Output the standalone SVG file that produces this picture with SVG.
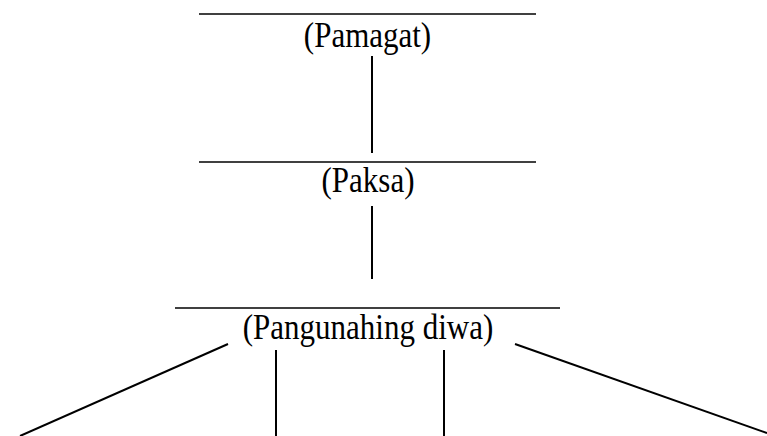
<svg xmlns="http://www.w3.org/2000/svg" width="767" height="436" viewBox="0 0 767 436">
<style>
.rule{stroke:#000;stroke-width:1.3;fill:none}
.lbl{font-family:"Liberation Serif","Times New Roman",serif;font-size:31px;fill:#000;text-anchor:middle}
.conn{stroke:#000;stroke-width:2;fill:none}
</style>
<rect width="767" height="436" fill="#fff"/>
<g id="pamagat">
<line class="rule" x1="199" y1="14" x2="536" y2="14"/>
<text class="lbl" transform="translate(367.5 47) scale(1 1.15)">(Pamagat)</text>
</g>
<g id="paksa">
<line class="rule" x1="199" y1="162" x2="536" y2="162"/>
<text class="lbl" transform="translate(368 192) scale(1 1.15)">(Paksa)</text>
</g>
<g id="pangunahing-diwa">
<line class="rule" x1="175" y1="308" x2="560" y2="308"/>
<text class="lbl" transform="translate(368 339) scale(1 1.15)">(Pangunahing diwa)</text>
</g>
<g id="connectors">
<line class="conn" x1="372" y1="56" x2="372" y2="153"/>
<line class="conn" x1="372" y1="206" x2="372" y2="279"/>
<line class="conn" x1="228" y1="344" x2="20" y2="436"/>
<line class="conn" x1="276" y1="350" x2="276" y2="436"/>
<line class="conn" x1="444" y1="350" x2="444" y2="436"/>
<line class="conn" x1="515" y1="344" x2="767" y2="433"/>
</g>
</svg>
